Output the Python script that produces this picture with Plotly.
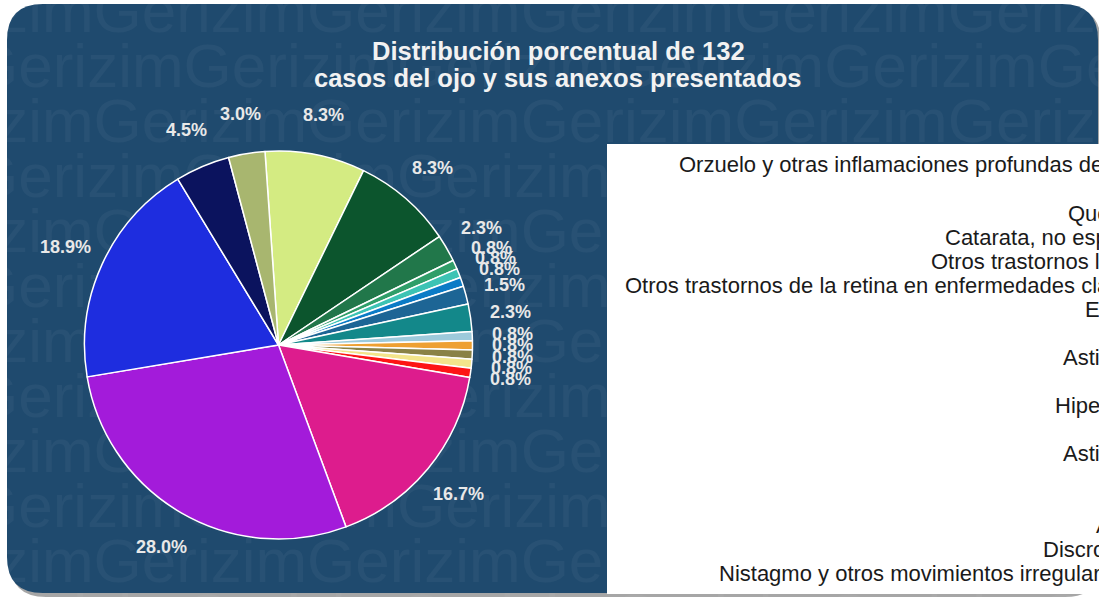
import math
import plotly.graph_objects as go

# ---------------- data ----------------
categories = [
    "Orzuelo y otras inflamaciones profundas del párpado",
    "Calacio",
    "Queratocono",
    "Catarata, no especificada",
    "Otros trastornos lagrimales",
    "Otros trastornos de la retina en enfermedades clasificadas",
    "Estrabismo",
    "Diplopía",
    "Astigmatismo",
    "Pterigión",
    "Hipermetropía",
    "Blefaritis",
    "Astigmatismo\u200b",
    "Presbicia",
    "Miopía",
    "Ambliopía",
    "Discromatopsia",
    "Nistagmo y otros movimientos irregulares del ojo",
]
cases = [11, 11, 3, 1, 1, 1, 2, 3, 1, 1, 1, 1, 1, 22, 37, 25, 6, 4]
slice_colors = [
    "#d4eb82", "#0c552d", "#21774a", "#2f9e69", "#3cc3b4", "#0b7bc6",
    "#1d6595", "#13888a", "#9dcadb", "#eea032", "#8a8246", "#f3e58b",
    "#fd1515", "#dd1c8d", "#a31bda", "#1e2ddf", "#0b135e", "#a8b66f",
]
title_lines = ["Distribución porcentual de 132",
               "casos del ojo y sus anexos presentados"]
watermark_word = "Gerizim"

# ---------------- layout constants (pixels) ----------------
W, H = 1099, 597
CX, CY, RAD = 278.5, 345.0, 194.0
ROT = -4
R_LBL = 234
BG = "#1f4a6e"

def px(x):
    return x / W

def py(y):
    return 1 - y / H

fig = go.Figure()

# watermark (drawn in cartesian layer, under the pie)
wm_x, wm_y, wm_t = [], [], []
for k in range(12):
    wm_y.append(16 + 55 * k)
    wm_x.append(-120 if k % 2 == 0 else -30)
    wm_t.append(watermark_word * 8)
fig.add_trace(go.Scatter(
    x=wm_x, y=wm_y, text=wm_t, mode="text", textposition="middle right",
    textfont=dict(family="Liberation Sans", size=62, color="rgba(255,255,255,0.045)"),
    hoverinfo="skip", showlegend=False, cliponaxis=True,
))

# pie
fig.add_trace(go.Pie(
    labels=categories, values=cases, sort=False, direction="clockwise",
    rotation=ROT, textinfo="none", showlegend=False,
    marker=dict(colors=slice_colors, line=dict(color="white", width=1.5)),
    domain=dict(x=[px(CX - RAD), px(CX + RAD)], y=[py(CY + RAD), py(CY - RAD)]),
    hoverinfo="label+percent",
))

# background shapes
def rounded(x0, y0, x1, y1, r):
    return (f"M {x0},{y0 + r} Q {x0},{y0} {x0 + r},{y0} L {x1 - r},{y0} "
            f"Q {x1},{y0} {x1},{y0 + r} L {x1},{y1 - r} Q {x1},{y1} {x1 - r},{y1} "
            f"L {x0 + r},{y1} Q {x0},{y1} {x0},{y1 - r} Z")

shapes = [
    dict(type="path", path=rounded(10, 7, 1101, 597, 36), xref="x", yref="y",
         fillcolor="rgba(0,0,0,0.35)", line=dict(width=0), layer="below"),
    dict(type="path", path=rounded(7, 4, 1098, 593, 36), xref="x", yref="y",
         fillcolor=BG, line=dict(width=0), layer="below"),
    dict(type="rect", x0=607, x1=1120, y0=144, y1=594, xref="x", yref="y",
         fillcolor="white", line=dict(width=0), layer="above"),
]

annotations = []
# title
for txt, yy in zip(title_lines, (51, 78)):
    annotations.append(dict(text=txt, x=px(558), y=py(yy), xref="paper", yref="paper",
                            xanchor="center", yanchor="middle", showarrow=False,
                            font=dict(family="Liberation Sans", size=25.5, color="#f2f2f2",
                                      weight="bold")))

# percentage labels
total = sum(cases)
cum = 0
for v in cases:
    mid = (cum + v / 2) / total
    cum += v
    th = math.radians(ROT + mid * 360)
    lx = CX + R_LBL * math.sin(th)
    ly = CY - R_LBL * math.cos(th)
    annotations.append(dict(text=f"{v / total * 100:.1f}%", x=px(lx), y=py(ly),
                            xref="paper", yref="paper", xanchor="center", yanchor="middle",
                            showarrow=False,
                            font=dict(family="Liberation Sans", size=18, color="#e8e8e8",
                                      weight="bold")))

# legend entries (right aligned, overflowing to the right like the reference)
LEG_RIGHT, LEG_TOP, LEG_STEP = 1197, 165, 24
for i, name in enumerate(categories):
    annotations.append(dict(text=name, x=px(LEG_RIGHT), y=py(LEG_TOP + LEG_STEP * i),
                            xref="paper", yref="paper", xanchor="right", yanchor="middle",
                            showarrow=False,
                            font=dict(family="Liberation Sans", size=22, color="#1a1a1a")))

fig.update_layout(
    width=W, height=H, margin=dict(l=0, r=0, t=0, b=0),
    paper_bgcolor="white", plot_bgcolor="rgba(0,0,0,0)",
    xaxis=dict(range=[0, W], visible=False, fixedrange=True, domain=[0, 1]),
    yaxis=dict(range=[H, 0], visible=False, fixedrange=True, domain=[0, 1]),
    shapes=shapes, annotations=annotations, showlegend=False,
)

fig.write_html("out.html", config={"displayModeBar": False},
               post_script="document.body.style.margin='0';document.body.style.overflow='hidden';")
